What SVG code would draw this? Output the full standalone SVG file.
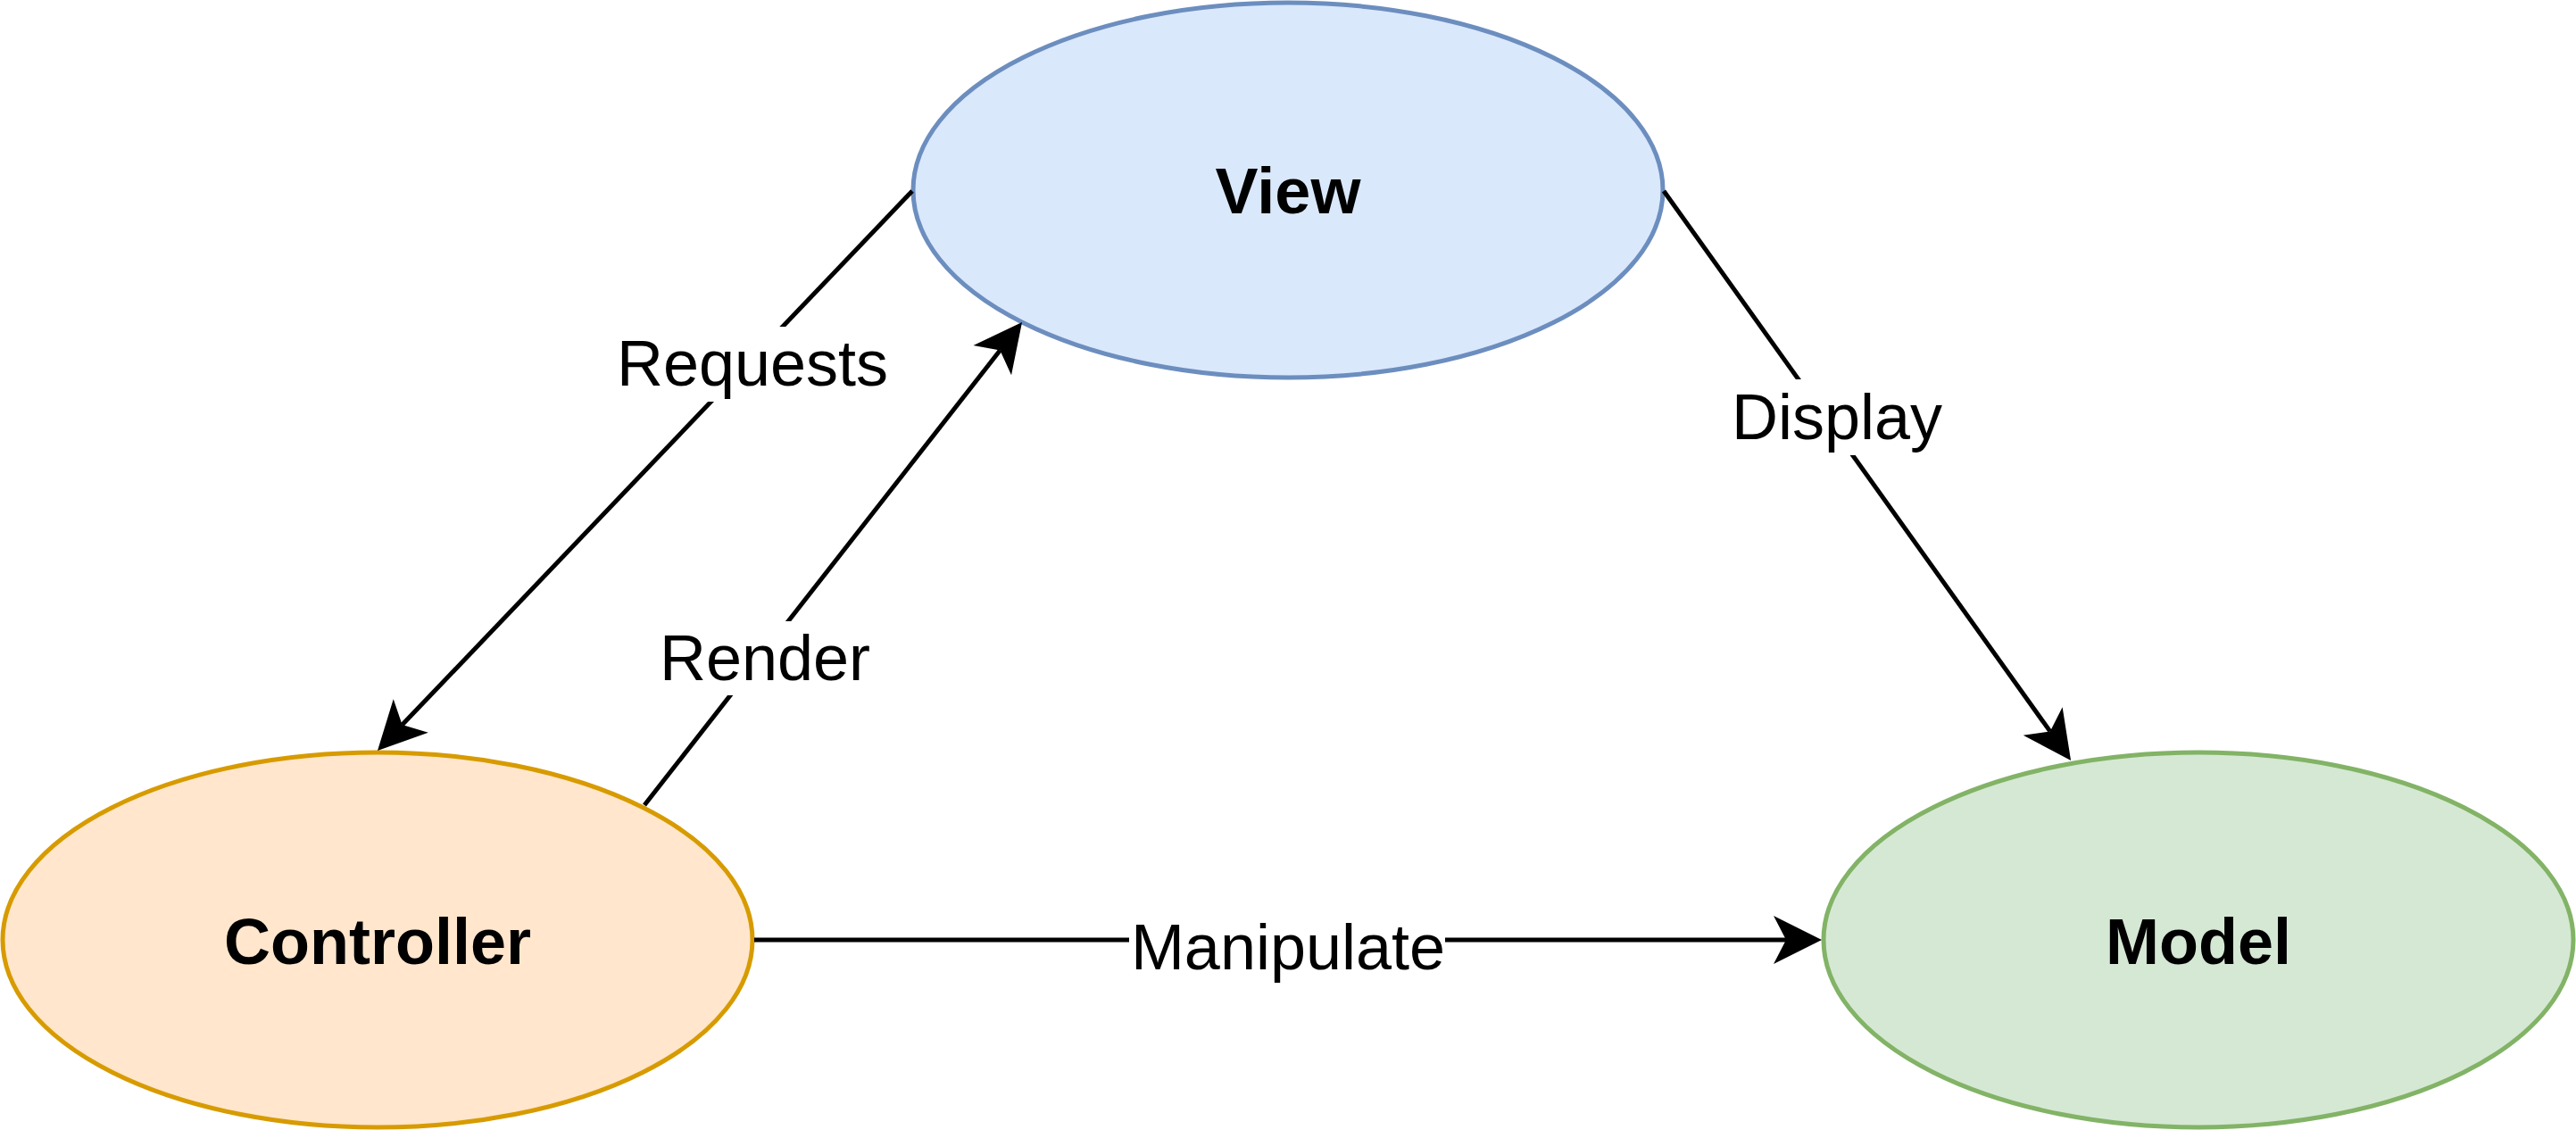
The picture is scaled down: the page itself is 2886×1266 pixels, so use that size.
<svg xmlns="http://www.w3.org/2000/svg" width="2886" height="1266" viewBox="0 0 2886 1266">
<style>
.node-label{font-family:"Liberation Sans",Arial,sans-serif;font-size:72px;font-weight:bold;fill:#000;text-anchor:middle}
.edge-label{font-family:"Liberation Sans",Arial,sans-serif;font-size:72px;fill:#000;text-anchor:middle}
.edge{stroke:#000;stroke-width:5;fill:none;marker-end:url(#arrow)}
.label-bg{fill:#fff}
</style>
<defs>
<marker id="arrow" markerUnits="userSpaceOnUse" markerWidth="56" markerHeight="56" viewBox="0 0 56 56" refX="14" refY="28" orient="auto">
<path d="M0,1 L54,28 L0,55 L14,28 Z" fill="#000"/>
</marker>
</defs>
<rect width="2886" height="1266" fill="#fff"/>
<g id="view">
<ellipse cx="1443" cy="213" rx="420" ry="210" fill="#dae8fc" stroke="#6c8ebf" stroke-width="5"/>
<text class="node-label" x="1443" y="239">View</text>
</g>
<g id="controller">
<ellipse cx="423" cy="1053" rx="420" ry="210" fill="#ffe6cc" stroke="#d79b00" stroke-width="5"/>
<text class="node-label" x="423" y="1080">Controller</text>
</g>
<g id="model">
<ellipse cx="2463" cy="1053" rx="420" ry="210" fill="#d5e8d4" stroke="#82b366" stroke-width="5"/>
<text class="node-label" x="2463" y="1080">Model</text>
</g>
<g id="connectors">
<g id="edge-requests">
<line class="edge" x1="1022" y1="214" x2="450.6" y2="812.1"/>
<rect class="label-bg" x="692" y="366" width="302" height="84"/>
<text class="edge-label" x="843" y="432">Requests</text>
</g>
<g id="edge-render">
<line class="edge" x1="722" y1="902" x2="1120.4" y2="392.5"/>
<rect class="label-bg" x="738" y="696" width="238" height="83"/>
<text class="edge-label" x="857" y="762">Render</text>
</g>
<g id="edge-display">
<line class="edge" x1="1864" y1="214" x2="2296.8" y2="819.4"/>
<rect class="label-bg" x="1939" y="425" width="238" height="85"/>
<text class="edge-label" x="2058" y="492">Display</text>
</g>
<g id="edge-manipulate">
<line class="edge" x1="845" y1="1053" x2="2001" y2="1053"/>
<rect class="label-bg" x="1265" y="1011" width="354" height="84"/>
<text class="edge-label" x="1443" y="1086">Manipulate</text>
</g>
</g>
</svg>
